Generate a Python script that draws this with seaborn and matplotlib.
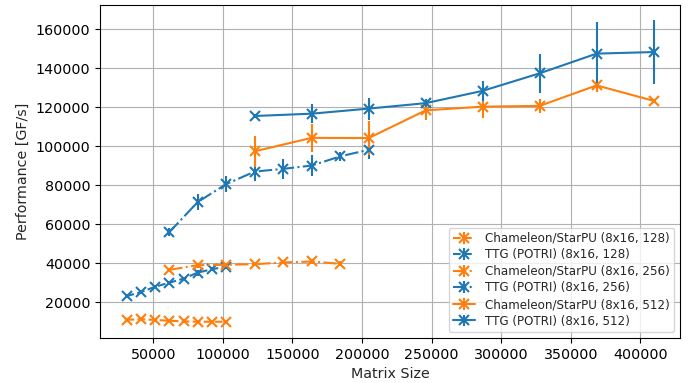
import matplotlib
matplotlib.use("Agg")
import matplotlib.pyplot as plt
import seaborn as sns
import numpy as np

sns.set_style("ticks")
plt.rcParams['font.family'] = ['DejaVu Sans']

x128 = [30720, 40960, 51200, 61440, 71680, 81920, 92160, 102400]
x256 = [61440, 81920, 102400, 122880, 143360, 163840, 184320, 204800]
x512 = [122880, 163840, 204800, 245760, 286720, 327680, 368640, 409600]

cham128 = [11000, 11300, 10900, 10500, 10200, 10000, 10000, 10000]
cham128_err = [500, 500, 500, 500, 500, 500, 500, 500]
ttg128 = [23100, 25200, 27900, 30000, 32100, 35200, 36900, 38300]
ttg128_err = [1000, 800, 800, 800, 800, 1500, 1000, 1000]

cham256 = [36600, 39000, 39200, 39500, 40400, 40900, 39700]
cham256_err = [800, 1200, 1000, 800, 1000, 1200, 1200]
x256c = x256[:7]
ttg256 = [55900, 71400, 80600, 87000, 88400, 90100, 94800, 98200]
ttg256_err = [2000, 4300, 3900, 5000, 5000, 5400, 2500, 5000]

cham512 = [97400, 104300, 104200, 118400, 120300, 120700, 131200, 123300]
cham512_err = [7800, 7000, 8600, 5000, 5700, 3700, 3600, 1000]
ttg512 = [115500, 116700, 119300, 122100, 128400, 137400, 147500, 148300]
ttg512_err = [1200, 4800, 5600, 2000, 5000, 10000, 16000, 16200]

labels = ["Chameleon/StarPU (8x16, 128)", "TTG (POTRI) (8x16, 128)",
          "Chameleon/StarPU (8x16, 256)", "TTG (POTRI) (8x16, 256)",
          "Chameleon/StarPU (8x16, 512)", "TTG (POTRI) (8x16, 512)"]

pal = sns.color_palette("tab10")
orange, blue = pal[1], pal[0]

fig = plt.figure(figsize=(6.91, 3.83), dpi=100)
ax = fig.add_axes([0.145, 0.118, 0.839, 0.868])

series = [
    (x128, cham128, cham128_err, orange, "--"),
    (x128, ttg128, ttg128_err, blue, "--"),
    (x256c, cham256, cham256_err, orange, "-."),
    (x256, ttg256, ttg256_err, blue, "-."),
    (x512, cham512, cham512_err, orange, "-"),
    (x512, ttg512, ttg512_err, blue, "-"),
]
for (xs, ys, es, c, ls), lab in zip(series, labels):
    ax.errorbar(xs, ys, yerr=es, color=c, linestyle=ls, marker="x",
                markersize=7, markeredgewidth=1.5, linewidth=1.5,
                elinewidth=1.5, capsize=0, label=lab)

ax.grid(True, color="#b0b0b0", linewidth=0.8)
ax.set_axisbelow(True)
for s in ax.spines.values():
    s.set_visible(True)
    s.set_color("black")
    s.set_linewidth(0.8)
ax.tick_params(direction="out", length=3.5, width=0.8, labelsize=10.3, colors="black")
ax.set_xlabel("Matrix Size", fontsize=10.3)
ax.set_ylabel("Performance [GF/s]", fontsize=10.3)
ax.set_xticks([50000, 100000, 150000, 200000, 250000, 300000, 350000, 400000])
ax.set_yticks([20000, 40000, 60000, 80000, 100000, 120000, 140000, 160000])
ax.legend(loc="lower right", fontsize=8.6, frameon=True, labelspacing=0.3,
          handlelength=1.9, borderpad=0.35)

fig.savefig("out.png", dpi=100)
